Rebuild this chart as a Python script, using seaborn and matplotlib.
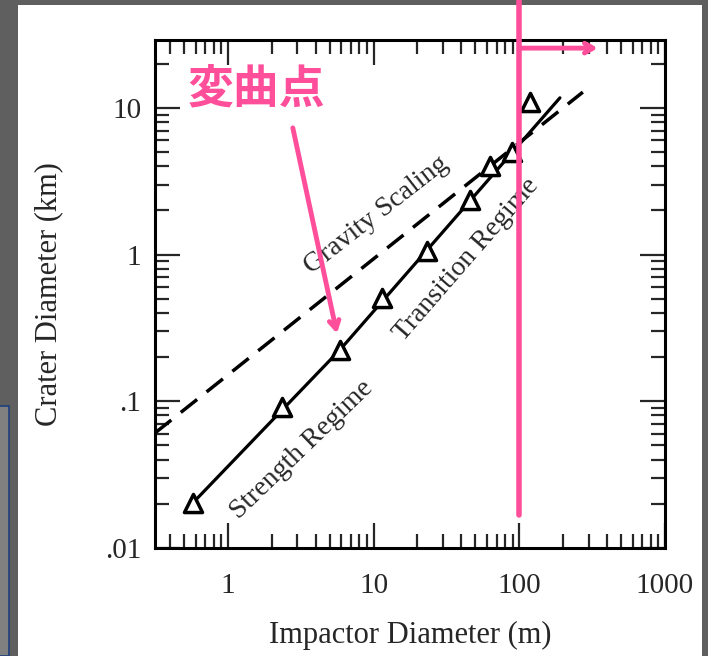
import numpy as np
import pandas as pd
import matplotlib
matplotlib.use("Agg")
import matplotlib.pyplot as plt
import matplotlib.ticker as mticker
import matplotlib.transforms as mtransforms
from matplotlib.patches import Rectangle
import seaborn as sns

# measured craters (impactor diameter in m, crater diameter in km)
impactor_m = [0.575, 2.35, 5.87, 11.4, 23.2, 45.8, 62.9, 89, 118]
crater_km = [0.0203, 0.0914, 0.224, 0.506, 1.06, 2.35, 4.0, 5.0, 11.0]

# scaling curves
fit_x = [0.575, 5.87, 190]
fit_y = [0.0203, 0.224, 11.7]
gravity_x = [0.316, 273]
gravity_y = [0.0608, 12.8]

x_ticks = [1, 10, 100, 1000]
x_labels = ["1", "10", "100", "1000"]
y_ticks = [0.01, 0.1, 1, 10]
y_labels = [".01", ".1", "1", "10"]

pink = "#ff4f9a"

sns.set_style("ticks")
plt.rcParams["font.family"] = ["Liberation Serif", "DejaVu Sans"]

fig = plt.figure(figsize=(7.08, 6.56), dpi=100)
fig.patch.set_facecolor("#5f5f5f")
# white slide area + little artefact on the left
fig.patches.append(Rectangle((18 / 708, 0), (702 - 18) / 708, 651 / 656,
                             transform=fig.transFigure, facecolor="white",
                             edgecolor="none", zorder=-2))
fig.patches.append(Rectangle((-0.01, 0), 9 / 708 + 0.01, (656 - 406) / 656,
                             transform=fig.transFigure, facecolor="#808080",
                             edgecolor="#1f3f7f", lw=1.2, zorder=-2))

ax = fig.add_axes([155 / 708, 1 - 548 / 656, 510 / 708, 508 / 656])
ax.set_facecolor("none")

df = pd.DataFrame({"impactor": impactor_m, "crater": crater_km})
sns.lineplot(x=fit_x, y=fit_y, ax=ax, color="black", lw=2.3)
sns.lineplot(x=gravity_x, y=gravity_y, ax=ax, color="black", lw=2.5,
             linestyle=(0, (6, 3.5)))
sns.scatterplot(data=df, x="impactor", y="crater", ax=ax, marker="^",
                s=170, facecolor="white", edgecolor="black", linewidth=2.5,
                zorder=5)

ax.set_xscale("log")
ax.set_yscale("log")
ax.set_xlim(0.316, 1000)
ax.set_ylim(0.01, 29)
ax.set_xticks(x_ticks)
ax.set_xticklabels(x_labels)
ax.set_yticks(y_ticks)
ax.set_yticklabels(y_labels)
ax.xaxis.set_minor_locator(mticker.LogLocator(base=10, subs=np.arange(2, 10)))
ax.yaxis.set_minor_locator(mticker.LogLocator(base=10, subs=np.arange(2, 10)))
ax.xaxis.set_minor_formatter(mticker.NullFormatter())
ax.yaxis.set_minor_formatter(mticker.NullFormatter())
ax.tick_params(which="both", direction="in", top=True, right=True,
               labelsize=21)
ax.tick_params(axis="x", pad=18)
ax.tick_params(axis="y", pad=10)
ax.tick_params(which="major", length=18, width=1.6)
ax.tick_params(which="minor", length=10, width=1.6)
for sp in ax.spines.values():
    sp.set_linewidth(2.2)
    sp.set_color("black")

ax.set_xlabel("Impactor Diameter (m)", fontsize=22, labelpad=16)
ax.set_ylabel("Crater Diameter (km)", fontsize=22, labelpad=30)

ax.text(10.4, 1.86, "Gravity Scaling", fontsize=20, rotation=38,
        ha="center", va="center", rotation_mode="anchor")
ax.text(43.7, 0.92, "Transition Regime", fontsize=20, rotation=49,
        ha="center", va="center", rotation_mode="anchor")
ax.text(3.22, 0.0466, "Strength Regime", fontsize=20, rotation=44,
        ha="center", va="center", rotation_mode="anchor")

# pink overlays
trans = mtransforms.blended_transform_factory(ax.transData, ax.transAxes)
ax.plot([100, 100], [0.065, 1.08], transform=trans, color=pink, lw=4,
        clip_on=False, zorder=6)
ax.annotate("", xy=(345, 0.984), xytext=(100, 0.984), xycoords=trans,
            textcoords=trans, annotation_clip=False,
            arrowprops=dict(arrowstyle="->,head_length=0.6,head_width=0.35",
                            color=pink, lw=3.5, shrinkA=0, shrinkB=0))
ax.text(1.56, 13.2, "変曲点", fontsize=33, color=pink, ha="center",
        va="center", family=["Noto Sans CJK JP", "DejaVu Sans"],
        fontweight="bold")
ax.annotate("", xy=(5.6, 0.29), xytext=(2.79, 7.3),
            arrowprops=dict(arrowstyle="->,head_length=0.6,head_width=0.35",
                            color=pink, lw=3.5, shrinkA=0, shrinkB=0))

fig.savefig("out.png", dpi=100, facecolor=fig.get_facecolor())
